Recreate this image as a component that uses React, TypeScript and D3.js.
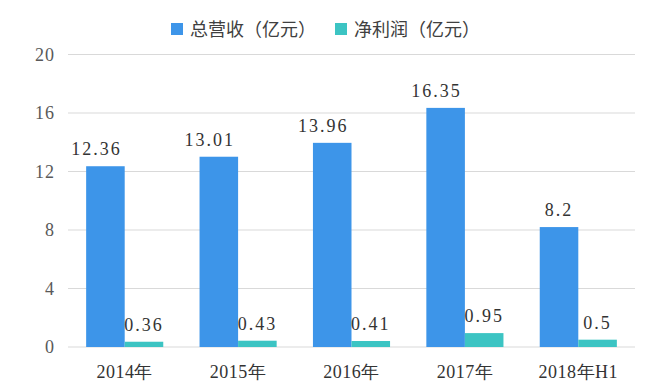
import React from 'react';
import * as d3 from 'd3';

// data
const years = ['2014年', '2015年', '2016年', '2017年', '2018年H1'];
const revenue = [12.36, 13.01, 13.96, 16.35, 8.2];
const profit = [0.36, 0.43, 0.41, 0.95, 0.5];
const seriesNames = ['总营收（亿元）', '净利润（亿元）'];
const yTicks = [0, 4, 8, 12, 16, 20];

const colors = ['#3D95E9', '#3CC4C3'];

export default function App() {
  const width = 659;
  const height = 391;
  const left = 68;
  const right = 635;
  const top = 54.5;
  const bottom = 347;

  const x = d3.scaleBand<string>().domain(years).range([left, right]).paddingInner(0.32).paddingOuter(0.16);
  const inner = d3.scaleBand<number>().domain([0, 1]).range([0, x.bandwidth()]);
  const y = d3.scaleLinear().domain([0, 20]).range([bottom, top]);

  const series = [revenue, profit];
  const serifFont = '"Liberation Serif", "DejaVu Serif", serif';
  const cjkFont = '"Noto Sans CJK SC", "Noto Sans", sans-serif';

  return (
    <svg width={width} height={height} style={{ position: 'absolute', left: 0, top: 0, background: '#fff' }}>
      {/* grid + y ticks */}
      {yTicks.map(t => (
        <g key={t}>
          <line x1={left} x2={right} y1={y(t)} y2={y(t)} stroke="#d9d9d9" strokeWidth={1} />
          <text x={55} y={y(t)} dy="0.35em" textAnchor="end" fontSize={18} letterSpacing={1}
            fontFamily={serifFont} fill="#595959">
            {t}
          </text>
        </g>
      ))}

      {/* bars */}
      {series.map((vals, si) =>
        vals.map((v, i) => {
          const bx = (x(years[i]) ?? 0) + (inner(si) ?? 0);
          const bw = inner.bandwidth();
          const label = String(v);
          // long labels sit a little left of the bar centre in the original
          const dx = label.length > 4 ? -9 : 0;
          return (
            <g key={`${si}-${i}`}>
              <rect x={bx} y={y(v)} width={bw} height={y(0) - y(v)} fill={colors[si]} />
              <text
                x={bx + bw / 2 + dx}
                y={y(v) - 11}
                textAnchor="middle"
                fontSize={18}
                letterSpacing={2}
                fontFamily={serifFont}
                fill="#333"
              >
                {label}
              </text>
            </g>
          );
        })
      )}

      {/* x labels */}
      {years.map(yr => (
        <text
          key={yr}
          x={(x(yr) ?? 0) + x.bandwidth() / 2}
          y={378}
          textAnchor="middle"
          fontSize={18}
          letterSpacing={0.5}
          fontFamily={serifFont}
          fill="#333"
        >
          {yr}
        </text>
      ))}

      {/* legend */}
      {seriesNames.map((name, i) => {
        const lx = i === 0 ? 171 : 335;
        return (
          <g key={name}>
            <rect x={lx} y={23} width={12} height={12} fill={colors[i]} />
            <text x={lx + 19} y={35.5} fontSize={18} fontFamily={cjkFont} fill="#404040">
              {name}
            </text>
          </g>
        );
      })}
    </svg>
  );
}
